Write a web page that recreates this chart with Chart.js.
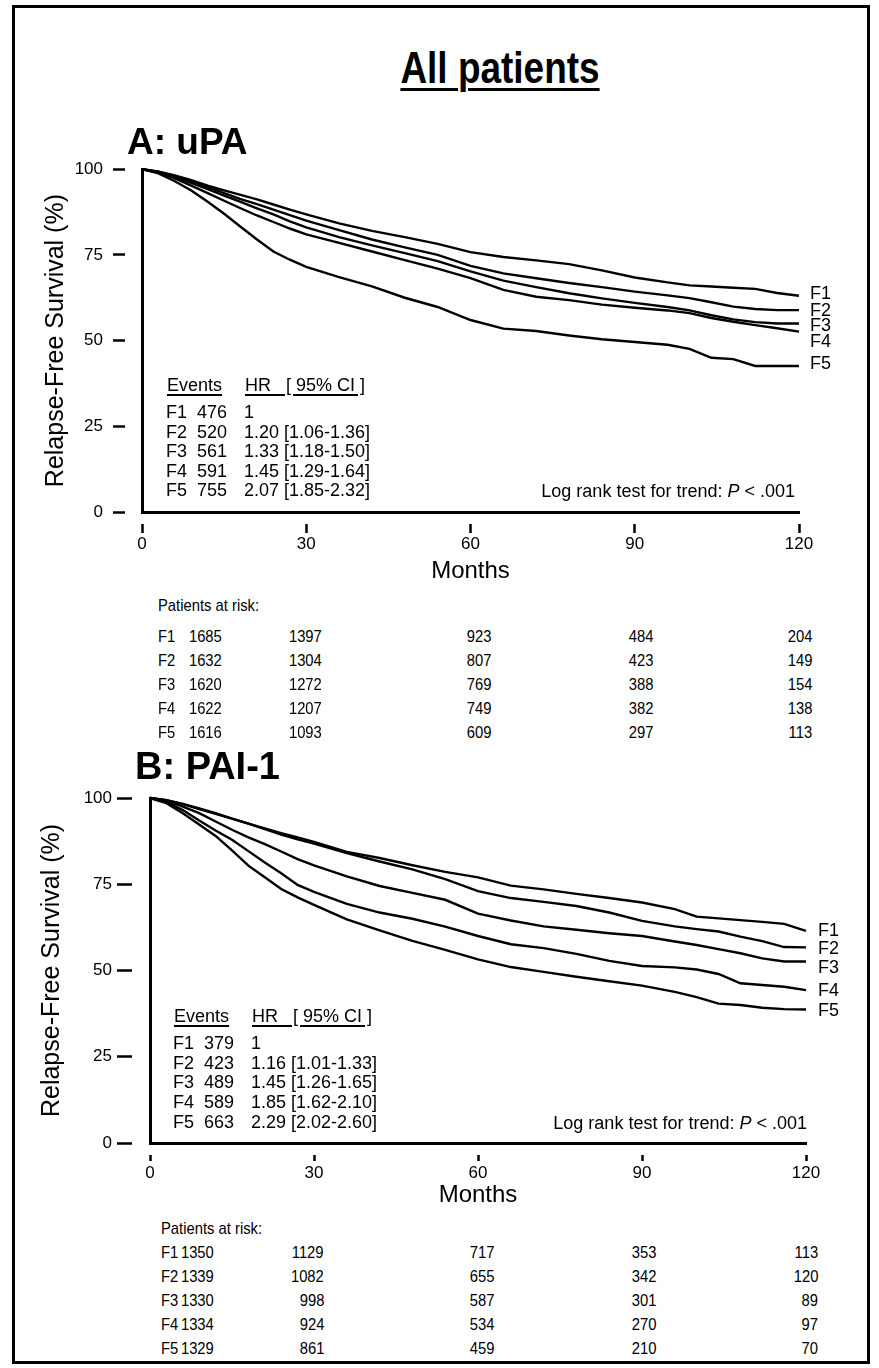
<!DOCTYPE html>
<html>
<head>
<meta charset="utf-8">
<script src="https://cdn.jsdelivr.net/npm/chart.js@4.4.1/dist/chart.umd.min.js"></script>
<style>
  html, body { margin: 0; padding: 0; background: #fff; }
  body { width: 879px; height: 1368px; position: relative; overflow: hidden;
         font-family: "Liberation Sans", Arial, Helvetica, sans-serif; color: #000; }
  #frame { position: absolute; left: 12px; top: 5px; width: 858px; height: 1359px;
           border: 3px solid #000; box-sizing: border-box; }
  canvas { position: absolute; left: 0; }
  .txt { position: absolute; line-height: 1; white-space: pre; }
  .ul { text-decoration: underline; text-decoration-thickness: 1.5px; text-underline-offset: 3px; }
  .title { text-decoration-thickness: 3px; text-underline-offset: 5px; }
</style>
</head>
<body>
<div id="frame"></div>
<canvas id="chartA" width="879" height="441" style="top:149px"></canvas>
<canvas id="chartB" width="879" height="435" style="top:778px"></canvas>
<script>
// Kaplan-Meier curves (months, relapse-free survival %)
const months = [0, 3, 6, 9, 12, 15, 18, 21, 24, 27, 30, 36, 42, 48, 54, 60, 66, 72, 78, 84, 90, 96, 100, 104, 108, 112, 116, 120];
const groups = ['F1', 'F2', 'F3', 'F4', 'F5'];
const xTicks = [0, 30, 60, 90, 120];

// A: uPA
const upaF1 = [100, 99.3, 98.2, 96.8, 95.2, 93.8, 92.5, 91.2, 89.7, 88.2, 86.8, 84.2, 82, 80.2, 78.2, 75.8, 74.4, 73.4, 72.3, 70.5, 68.4, 67, 66.1, 65.8, 65.4, 65.1, 63.9, 63.1];
const upaF2 = [100, 99.3, 98, 96.5, 94.8, 93, 91.3, 89.8, 88.2, 86.6, 85, 82.2, 79.5, 77.2, 75, 71.8, 69.6, 68.2, 66.8, 65.6, 64.3, 63.2, 62.4, 61.2, 59.9, 59.2, 58.9, 58.9];
const upaF3 = [100, 99.2, 97.8, 96, 94.2, 92.3, 90.5, 88.6, 86.8, 84.8, 83, 80.2, 77.8, 75.5, 73.2, 70.2, 67.5, 65.6, 63.8, 62.3, 61, 59.8, 58.8, 57.4, 56.2, 55.4, 55, 55];
const upaF4 = [100, 99, 97.3, 95.2, 93, 90.8, 88.6, 86.5, 84.6, 82.7, 81, 78.5, 76, 73.5, 71, 68.2, 64.8, 62.8, 61.8, 60.5, 59.6, 58.8, 58, 56.6, 55.5, 54.5, 53.6, 52.6];
const upaF5 = [100, 98.8, 96.5, 93.8, 90.5, 87, 83.2, 79.5, 76, 73.6, 71.5, 68.5, 65.8, 62.5, 59.8, 56, 53.5, 52.8, 51.5, 50.4, 49.6, 48.8, 47.6, 45, 44.6, 42.6, 42.6, 42.6];
const upaEvents = [476, 520, 561, 591, 755];
const upaHR = ['1', '1.20 [1.06-1.36]', '1.33 [1.18-1.50]', '1.45 [1.29-1.64]', '2.07 [1.85-2.32]'];
const upaAtRisk = [
  [1685, 1397, 923, 484, 204],
  [1632, 1304, 807, 423, 149],
  [1620, 1272, 769, 388, 154],
  [1622, 1207, 749, 382, 138],
  [1616, 1093, 609, 297, 113]
];

// B: PAI-1
const paiF1 = [100, 99.4, 98.3, 97, 95.6, 94, 92.6, 91.2, 89.8, 88.6, 87.3, 84.4, 82.6, 80.5, 78.6, 77, 74.6, 73.5, 72.2, 71, 69.7, 67.8, 65.6, 65.1, 64.6, 64.1, 63.5, 61.5];
const paiF2 = [100, 99.4, 98.2, 96.8, 95.4, 94, 92.6, 91, 89.4, 88, 86.8, 84, 81.6, 79.3, 76.5, 73, 71, 69.9, 68.7, 66.8, 64.4, 62.8, 62, 61.3, 59.8, 58.5, 56.8, 56.7];
const paiF3 = [100, 99.2, 97.5, 95.6, 93.2, 90.8, 88.6, 86.6, 84.5, 82.3, 80.5, 77.3, 74.5, 72.5, 70.5, 66.5, 64.5, 62.8, 61.8, 60.8, 60, 58.4, 57.4, 56.2, 55, 53.5, 52.6, 52.6];
const paiF4 = [100, 98.8, 96.5, 93.5, 90.6, 87.9, 84.6, 81.3, 78.2, 74.8, 72.8, 69.3, 66.8, 65, 62.7, 60, 57.6, 56.5, 54.8, 52.8, 51.3, 50.9, 50.3, 49, 46.3, 45.8, 45.3, 44.3];
const paiF5 = [100, 98.5, 95.6, 92.3, 89, 84.8, 80.4, 77, 73.6, 71.2, 69, 64.8, 61.6, 58.6, 56, 53.2, 51, 49.6, 48.2, 46.9, 45.6, 43.8, 42.3, 40.4, 40, 39.2, 38.8, 38.7];
const paiEvents = [379, 423, 489, 589, 663];
const paiHR = ['1', '1.16 [1.01-1.33]', '1.45 [1.26-1.65]', '1.85 [1.62-2.10]', '2.29 [2.02-2.60]'];
const paiAtRisk = [
  [1350, 1129, 717, 353, 113],
  [1339, 1082, 655, 342, 120],
  [1330, 998, 587, 301, 89],
  [1334, 924, 534, 270, 97],
  [1329, 861, 459, 210, 70]
];

// text helper: y is the vertical middle of the capitals
function addText(html, x, y, size, opts = {}) {
  const el = document.createElement('div');
  el.className = 'txt' + (opts.cls ? ' ' + opts.cls : '');
  el.style.fontSize = size + 'px';
  if (opts.bold) el.style.fontWeight = 'bold';
  el.style.top = (y - 0.49 * size) + 'px';
  let tf = '';
  if (opts.align === 'right') {
    el.style.right = (879 - x) + 'px';
    el.style.transformOrigin = 'right center';
  } else if (opts.align === 'center') {
    el.style.left = x + 'px';
    tf = 'translateX(-50%) ';
  } else {
    el.style.left = x + 'px';
    el.style.transformOrigin = 'left center';
  }
  if (opts.sx) tf += 'scaleX(' + opts.sx + ')';
  if (tf) el.style.transform = tf;
  el.innerHTML = html;
  document.body.appendChild(el);
  return el;
}

function makeChart(id, series, g) {
  const black = '#000';
  const datasets = series.map(vals => ({
    data: vals.map((v, i) => ({ x: months[i], y: v })),
    borderColor: black,
    borderWidth: 2.4,
    pointRadius: 0,
    tension: 0,
    clip: false
  }));
  return new Chart(document.getElementById(id), {
    type: 'line',
    data: { datasets },
    options: {
      responsive: false,
      animation: false,
      devicePixelRatio: 1,
      events: [],
      layout: { padding: { left: 0, top: g.top, right: g.right, bottom: 0 } },
      plugins: { legend: { display: false }, tooltip: { enabled: false } },
      scales: {
        x: {
          type: 'linear', min: 0, max: 120,
          afterBuildTicks: s => { s.ticks = xTicks.map(v => ({ value: v })); },
          afterFit: s => { s.height = g.xHeight; },
          ticks: { color: black, font: { size: 17 }, padding: g.xPad, maxRotation: 0 },
          grid: { drawOnChartArea: false, tickLength: g.xTick, tickWidth: 2.5, tickColor: black,
                  tickBorderDash: g.xDash },
          border: { display: true, color: black, width: 3 },
          title: { display: true, text: 'Months', color: black, font: { size: 24 },
                   padding: { top: 0, bottom: g.monthsPad } }
        },
        y: {
          min: 0, max: 100,
          afterFit: s => { s.width = g.left; },
          ticks: { stepSize: 25, color: black, font: { size: 17 }, padding: g.yPad },
          grid: { drawOnChartArea: false, tickLength: g.yTick, tickWidth: 2.5, tickColor: black,
                  tickBorderDash: g.yDash },
          border: { display: true, color: black, width: 3 },
          title: { display: true, text: 'Relapse-Free Survival (%)', color: black, font: { size: 25 },
                   padding: { top: g.yTitlePad, bottom: 0 } }
        }
      }
    }
  });
}

makeChart('chartA', [upaF1, upaF2, upaF3, upaF4, upaF5], {
  top: 20, right: 80, left: 142, xHeight: 78, xTick: 21, xDash: [0, 10, 10, 0], xPad: 1,
  monthsPad: 4, yTick: 29, yDash: [12, 17], yPad: 10, yTitlePad: 41
});
makeChart('chartB', [paiF1, paiF2, paiF3, paiF4, paiF5], {
  top: 20, right: 73, left: 150, xHeight: 70, xTick: 18, xDash: [0, 10, 8, 0], xPad: 2,
  monthsPad: 3, yTick: 33, yDash: [15, 18], yPad: 5, yTitlePad: 37
});

// headings
addText('All patients', 500, 68, 44, { bold: true, align: 'center', cls: 'ul title', sx: 0.84 });
addText('A: uPA', 127, 141, 37, { bold: true });
addText('B: PAI-1', 135, 766, 38, { bold: true });

// events / hazard ratio boxes
function eventsBox(events, hr, x0, yHead, step) {
  addText('Events', x0 + 1, yHead, 18, { cls: 'ul' });
  addText('HR   [ 95% CI ]', x0 + 79, yHead, 18, { cls: 'ul' });
  groups.forEach((f, i) => {
    const y = yHead + 27 + i * step;
    addText(f, x0, y, 18);
    addText(String(events[i]), x0 + 31, y, 18);
    addText(hr[i], x0 + 78, y, 18);
  });
}
eventsBox(upaEvents, upaHR, 166, 385, 19.5);
eventsBox(paiEvents, paiHR, 173, 1016, 19.6);

addText('Log rank test for trend: <i>P</i> &lt; .001', 795, 491, 18, { align: 'right' });
addText('Log rank test for trend: <i>P</i> &lt; .001', 807, 1123, 18, { align: 'right' });

// curve end labels
[293, 310, 325, 341, 363].forEach((y, i) => addText(groups[i], 810, y, 18));
[930, 948, 967, 990, 1010].forEach((y, i) => addText(groups[i], 818, y, 18));

// patients at risk tables (narrow type as in the original)
function riskTable(rows, xF, colRight, yHead, yFirst, step) {
  addText('Patients at risk:', xF, yHead, 17, { sx: 0.87 });
  rows.forEach((row, r) => {
    const y = yFirst + r * step;
    addText(groups[r], xF, y, 17, { sx: 0.87 });
    row.forEach((n, c) => addText(String(n), colRight[c], y, 17, { align: 'right', sx: 0.87 }));
  });
}
riskTable(upaAtRisk, 158, [222, 322, 491, 653, 812], 605, 636, 24);
riskTable(paiAtRisk, 161, [214, 324, 494, 656, 818], 1228, 1252, 24);
</script>
</body>
</html>
